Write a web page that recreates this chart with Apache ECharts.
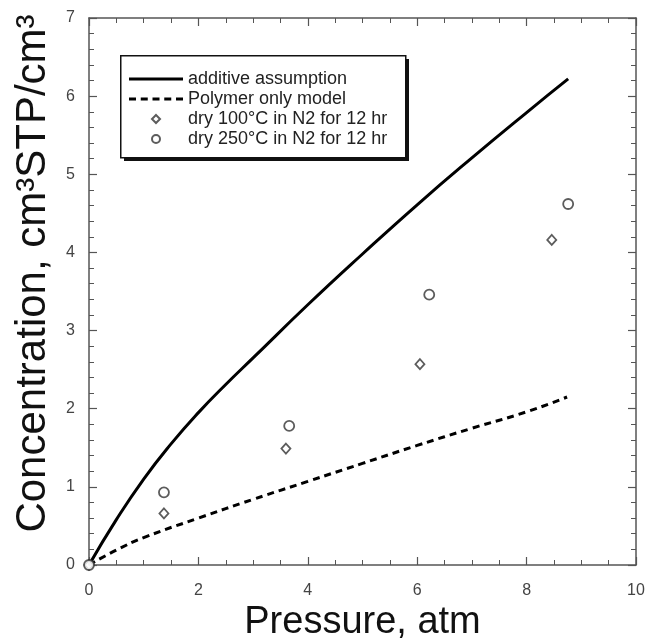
<!DOCTYPE html>
<html>
<head>
<meta charset="utf-8">
<script src="https://cdn.jsdelivr.net/npm/echarts@6/dist/echarts.min.js"></script>
<style>html,body{margin:0;padding:0;background:#fff;}#c{width:646px;height:640px;}</style>
</head>
<body>
<div id="c"></div>
<script>
// Data
const additiveX = [0, 0.5, 1, 1.5, 2, 2.5, 3, 4, 5, 6, 7, 8, 8.76];
const additiveY = [0, 0.58, 1.1, 1.55, 1.95, 2.31, 2.65, 3.33, 3.98, 4.61, 5.21, 5.79, 6.22];
const polymerX = [0, 0.5, 1, 2, 3, 4, 5, 6, 7, 8, 8.74];
const polymerY = [0, 0.19, 0.35, 0.6, 0.84, 1.07, 1.3, 1.53, 1.75, 1.96, 2.15];
const dry100X = [0, 1.37, 3.6, 6.05, 8.46];
const dry100Y = [0, 0.66, 1.49, 2.57, 4.16];
const dry250X = [0, 1.37, 3.66, 6.22, 8.76];
const dry250Y = [0, 0.93, 1.78, 3.46, 4.62];
const seriesNames = ['additive assumption', 'Polymer only model', 'dry 100°C in N2 for 12 hr', 'dry 250°C in N2 for 12 hr'];
const xTitle = 'Pressure, atm';
const yTitle = 'Concentration, cm³STP/cm³';

const zip = (xs, ys) => xs.map((x, i) => [x, ys[i]]);
const font = 'Liberation Sans, Arial, sans-serif';
const axColor = '#555';

function axisBase(extra) {
  return Object.assign({
    type: 'value',
    axisLine: { show: true, onZero: false, lineStyle: { color: axColor, width: 1.5 } },
    axisTick: { show: true, inside: true, length: 8, lineStyle: { color: axColor, width: 1.2 } },
    minorTick: { show: true, splitNumber: 4, length: 5, lineStyle: { color: axColor, width: 1 } },
    splitLine: { show: false },
    minorSplitLine: { show: false }
  }, extra);
}

const solidIcon = 'path://M0,0H54V3H0Z';
const dashIcon = 'path://M0,0H7V3H0Z M11.75,0H18.75V3H11.75Z M23.5,0H30.5V3H23.5Z M35.25,0H42.25V3H35.25Z M47,0H54V3H47Z';
const diamondIcon = 'path://M0,-4L4,0L0,4L-4,0Z';

const chart = echarts.init(document.getElementById('c'), null, { renderer: 'canvas' });
chart.setOption({
  backgroundColor: '#fff',
  animation: false,
  grid: { left: 89, right: 10, top: 18, bottom: 75, outerBoundsMode: 'none', containLabel: false },
  xAxis: [
    axisBase({ position: 'bottom', min: 0, max: 10, interval: 2,
      name: xTitle, nameLocation: 'middle', nameGap: 37,
      nameTextStyle: { fontFamily: font, fontSize: 38, color: '#111' },
      axisLabel: { fontFamily: font, fontSize: 16, color: '#444', margin: 18 } }),
    axisBase({ position: 'top', min: 0, max: 10, interval: 2, axisLabel: { show: false } })
  ],
  yAxis: [
    axisBase({ position: 'left', min: 0, max: 7, interval: 1,
      minorTick: { show: true, splitNumber: 5, length: 5, lineStyle: { color: axColor, width: 1 } },
      name: yTitle, nameLocation: 'middle', nameGap: 35, nameRotate: 90,
      nameTextStyle: { fontFamily: font, fontSize: 42, color: '#111', padding: [0, 0, 0, 36] },
      axisLabel: { fontFamily: font, fontSize: 16, color: '#444', margin: 14 } }),
    axisBase({ position: 'right', min: 0, max: 7, interval: 1,
      minorTick: { show: true, splitNumber: 5, length: 5, lineStyle: { color: axColor, width: 1 } },
      axisLabel: { show: false } })
  ],
  graphic: [
    { type: 'rect', left: 124, top: 59, z: 10, shape: { width: 285, height: 102 }, style: { fill: '#111' } },
    { type: 'rect', left: 120, top: 55, z: 11, shape: { width: 285, height: 102 }, style: { fill: '#fff', stroke: '#111', lineWidth: 1.5 } }
  ],
  legend: {
    orient: 'vertical', left: 129, top: 70, z: 20,
    padding: 0, selectedMode: false,
    itemWidth: 54, itemHeight: 8, itemGap: 2,
    symbolKeepAspect: true,
    textStyle: { fontFamily: font, fontSize: 18, color: '#222', lineHeight: 18 },
    data: [
      { name: seriesNames[0], icon: solidIcon, itemStyle: { color: '#000', borderWidth: 0 } },
      { name: seriesNames[1], icon: dashIcon, itemStyle: { color: '#000', borderWidth: 0 } },
      { name: seriesNames[2], icon: diamondIcon },
      { name: seriesNames[3], icon: 'circle' }
    ]
  },
  series: [
    { name: seriesNames[0], type: 'line', data: zip(additiveX, additiveY), smooth: true,
      symbol: 'none', lineStyle: { color: '#000', width: 3 }, itemStyle: { color: '#000' }, z: 3 },
    { name: seriesNames[1], type: 'line', data: zip(polymerX, polymerY), smooth: true,
      symbol: 'none', lineStyle: { color: '#000', width: 3, type: [7, 5] }, itemStyle: { color: '#000' }, z: 3 },
    { name: seriesNames[2], type: 'scatter', data: zip(dry100X, dry100Y),
      symbol: 'diamond', symbolSize: [9, 10],
      itemStyle: { color: '#fff', borderColor: '#333', borderWidth: 1.8 }, z: 4 },
    { name: seriesNames[3], type: 'scatter', data: zip(dry250X, dry250Y),
      symbol: 'circle', symbolSize: 10,
      itemStyle: { color: '#fff', borderColor: '#333', borderWidth: 1.8 }, z: 4 }
  ]
});
</script>
</body>
</html>
